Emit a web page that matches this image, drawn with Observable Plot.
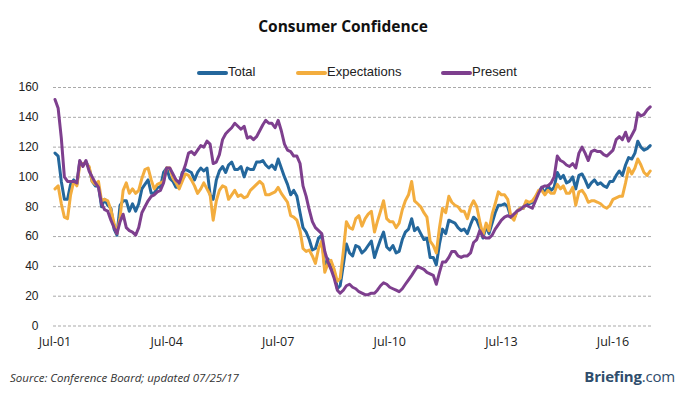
<!DOCTYPE html>
<html>
<head>
<meta charset="utf-8">
<script src="https://cdn.jsdelivr.net/npm/d3@7"></script>
<script src="https://cdn.jsdelivr.net/npm/@observablehq/plot@0.6"></script>
<style>
  body { margin: 0; background: #fff; }
  #wrap { position: relative; width: 680px; height: 399px; overflow: hidden; background: #fff; }
  #title { position: absolute; top: 15px; left: 3px; width: 680px; text-align: center;
           font: bold 15.5px "Open Sans", sans-serif; color: #111; }
  .lg-sw { position: absolute; height: 3.5px; width: 31px; border-radius: 2px; top: 71px; }
  .lg-tx { position: absolute; top: 64px; font: 13px "Liberation Sans", Arial, sans-serif; color: #222; }
  #chart { position: absolute; top: 78px; left: 0; }
  #source { position: absolute; left: 10px; top: 370px; font: italic 11.5px "Open Sans", sans-serif; color: #333; }
  #brand { position: absolute; right: 5px; top: 366px; font: bold 15px "Open Sans", sans-serif; color: #2f4d6c; letter-spacing: -0.2px; }
  #brand span { font-weight: normal; }
</style>
</head>
<body>
<div id="wrap">
  <div id="title">Consumer Confidence</div>
  <div id="legend"></div>
  <div id="chart"></div>
  <div id="source">Source: Conference Board; updated 07/25/17</div>
  <div id="brand">Briefing<span>.com</span></div>
</div>
<script>
// Monthly data, Jul 2001 .. Jul 2017
const startMonth = "2001-07";
const seriesNames = ["Total", "Expectations", "Present"];
const seriesColors = ["#24679c", "#f3ad3e", "#7e3f8e"];

const total = [
  116, 114, 97, 85, 85, 95,
  98, 95, 110, 108, 110, 106, 97, 94, 94, 80, 85, 81,
  79, 65, 61, 81, 84, 84, 77, 82, 77, 82, 92, 95,
  98, 89, 89, 93, 93, 103, 106, 99, 97, 93, 93, 103,
  105, 104, 103, 98, 103, 106, 104, 106, 88, 85, 98, 104,
  107, 103, 108, 110, 105, 105, 107, 100, 106, 105, 105, 110,
  110, 111, 108, 106, 108, 105, 112, 106, 100, 95, 88, 91,
  87, 76, 66, 63, 58, 51, 52, 59, 61, 39, 45, 39,
  37, 25, 27, 41, 55, 49, 47, 54, 53, 49, 51, 54,
  57, 46, 52, 58, 63, 53, 51, 54, 49, 50, 58, 63,
  65, 72, 64, 66, 62, 58, 59, 46, 46, 41, 55, 65,
  62, 71, 70, 69, 66, 64, 65, 62, 68, 73, 71, 66,
  59, 67, 62, 69, 76, 81, 81, 82, 80, 73, 72, 77,
  79, 79, 83, 82, 83, 86, 90, 93, 89, 94, 91, 93,
  103, 99, 101, 96, 97, 100, 92, 101, 102, 98, 93, 96,
  98, 95, 96, 94, 93, 97, 97, 101, 104, 101, 108, 113,
  112, 116, 124, 120, 118, 119, 121
];

const expectations = [
  92, 94, 82, 73, 72, 88,
  97, 94, 108, 109, 109, 107, 97, 95, 97, 84, 85, 84,
  78, 69, 62, 73, 91, 96, 89, 92, 89, 91, 99, 105,
  106, 98, 92, 95, 96, 97, 106, 106, 99, 96, 92, 97,
  102, 101, 98, 94, 89, 92, 96, 92, 88, 71, 84, 91,
  94, 93, 85, 88, 91, 87, 88, 86, 87, 91, 93, 95,
  97, 95, 88, 88, 89, 90, 93, 89, 86, 83, 74, 73,
  71, 64, 52, 50, 51, 47, 42, 52, 57, 36, 42, 44,
  38, 30, 32, 50, 70, 66, 65, 72, 74, 67, 72, 75,
  77, 63, 70, 77, 84, 72, 70, 70, 66, 69, 78, 84,
  88, 97, 84, 82, 80, 76, 73, 57, 54, 49, 66, 79,
  76, 87, 83, 81, 80, 77, 77, 72, 80, 84, 80, 70,
  61, 69, 64, 75, 82, 90, 88, 88, 85, 74, 71, 77,
  79, 79, 84, 83, 84, 87, 91, 91, 88, 91, 89, 89,
  95, 92, 94, 89, 89, 93, 81, 90, 91, 88, 83, 84,
  84, 83, 82, 80, 79, 81, 85, 86, 87, 87, 96, 106,
  102, 106, 112, 108, 103, 101, 104
];

const present = [
  152, 146, 126, 100, 97, 97,
  97, 96, 111, 107, 111, 104, 100, 96, 93, 82, 78, 77,
  71, 66, 62, 70, 75, 66, 64, 63, 61, 66, 76, 80,
  84, 87, 88, 90, 91, 96, 106, 106, 102, 98, 96, 102,
  108, 116, 117, 115, 118, 121, 120, 124, 122, 109, 110, 115,
  125, 129, 131, 133, 136, 134, 132, 134, 126, 127, 125, 127,
  131, 135, 138, 136, 136, 133, 138, 131, 122, 118, 117, 114,
  114, 109, 94, 87, 78, 70, 66, 64, 62, 50, 43, 38,
  32, 24, 22, 24, 27, 28, 26, 25, 23, 22, 21, 21,
  22, 22, 24, 27, 29, 28, 26, 25, 24, 23, 25, 28,
  31, 34, 37, 40, 39, 38, 36, 35, 34, 28, 36, 43,
  43, 46, 50, 50, 47, 46, 47, 47, 49, 56, 58, 64,
  60, 59, 59, 61, 65, 68, 71, 73, 74, 73, 75, 77,
  78, 80, 81, 80, 79, 84, 89, 93, 94, 94, 96, 100,
  114, 111, 110, 108, 107, 109, 106, 116, 120, 116, 111, 117,
  118, 117, 117, 115, 114, 116, 118, 125, 127, 125, 130, 124,
  128, 132, 143, 141, 142, 145, 147
];

const yTicks = [0, 20, 40, 60, 80, 100, 120, 140, 160];
const xTickMonths = ["2001-07", "2004-07", "2007-07", "2010-07", "2013-07", "2016-07"];
const xTickLabels = ["Jul-01", "Jul-04", "Jul-07", "Jul-10", "Jul-13", "Jul-16"];

// legend (HTML, above the SVG)
const legendSw = [197, 296, 441];
const legend = document.getElementById("legend");
seriesNames.forEach((n, i) => {
  const sw = document.createElement("div");
  sw.className = "lg-sw";
  sw.style.left = legendSw[i] + "px";
  sw.style.background = seriesColors[i];
  legend.appendChild(sw);
  const tx = document.createElement("div");
  tx.className = "lg-tx";
  tx.style.left = (legendSw[i] + 31) + "px";
  tx.textContent = n;
  legend.appendChild(tx);
});

const start = d3.utcParse("%Y-%m")(startMonth);
const months = total.map((_, i) => d3.utcMonth.offset(start, i));
const tickDates = xTickMonths.map(d3.utcParse("%Y-%m"));
const fmt = d3.utcFormat("%Y-%m");
const labelOf = new Map(xTickMonths.map((m, i) => [m, xTickLabels[i]]));

const series = [total, expectations, present];

const plot = Plot.plot({
  width: 680,
  height: 275,
  marginLeft: 53,
  marginRight: 28,
  marginTop: 9,
  marginBottom: 27.5,
  style: { background: "transparent" },
  x: { type: "utc", domain: [months[0], months[months.length - 1]], insetLeft: 1.5, insetRight: 2.3 },
  y: { domain: [0, 160] },
  marks: [
    Plot.ruleY(yTicks, { stroke: "#a9a9a9", strokeWidth: 1, strokeDasharray: "3,2" }),
    Plot.axisY(yTicks, {
      tickSize: 0, tickPadding: 15, label: null,
      fontSize: 12, fontFamily: "Liberation Sans, Arial, sans-serif", fill: "#222"
    }),
    Plot.axisX(tickDates, {
      tickSize: 0, tickPadding: 11, label: null,
      tickFormat: d => labelOf.get(fmt(d)),
      fontSize: 12.5, fontFamily: "Open Sans, sans-serif", fill: "#222"
    }),
    ...series.map((s, k) => Plot.lineY(s, {
      x: (d, i) => months[i],
      y: d => d,
      stroke: seriesColors[k],
      strokeWidth: 3,
      strokeLinejoin: "round",
      strokeLinecap: "round"
    }))
  ]
});
document.getElementById("chart").appendChild(plot);
</script>
</body>
</html>
